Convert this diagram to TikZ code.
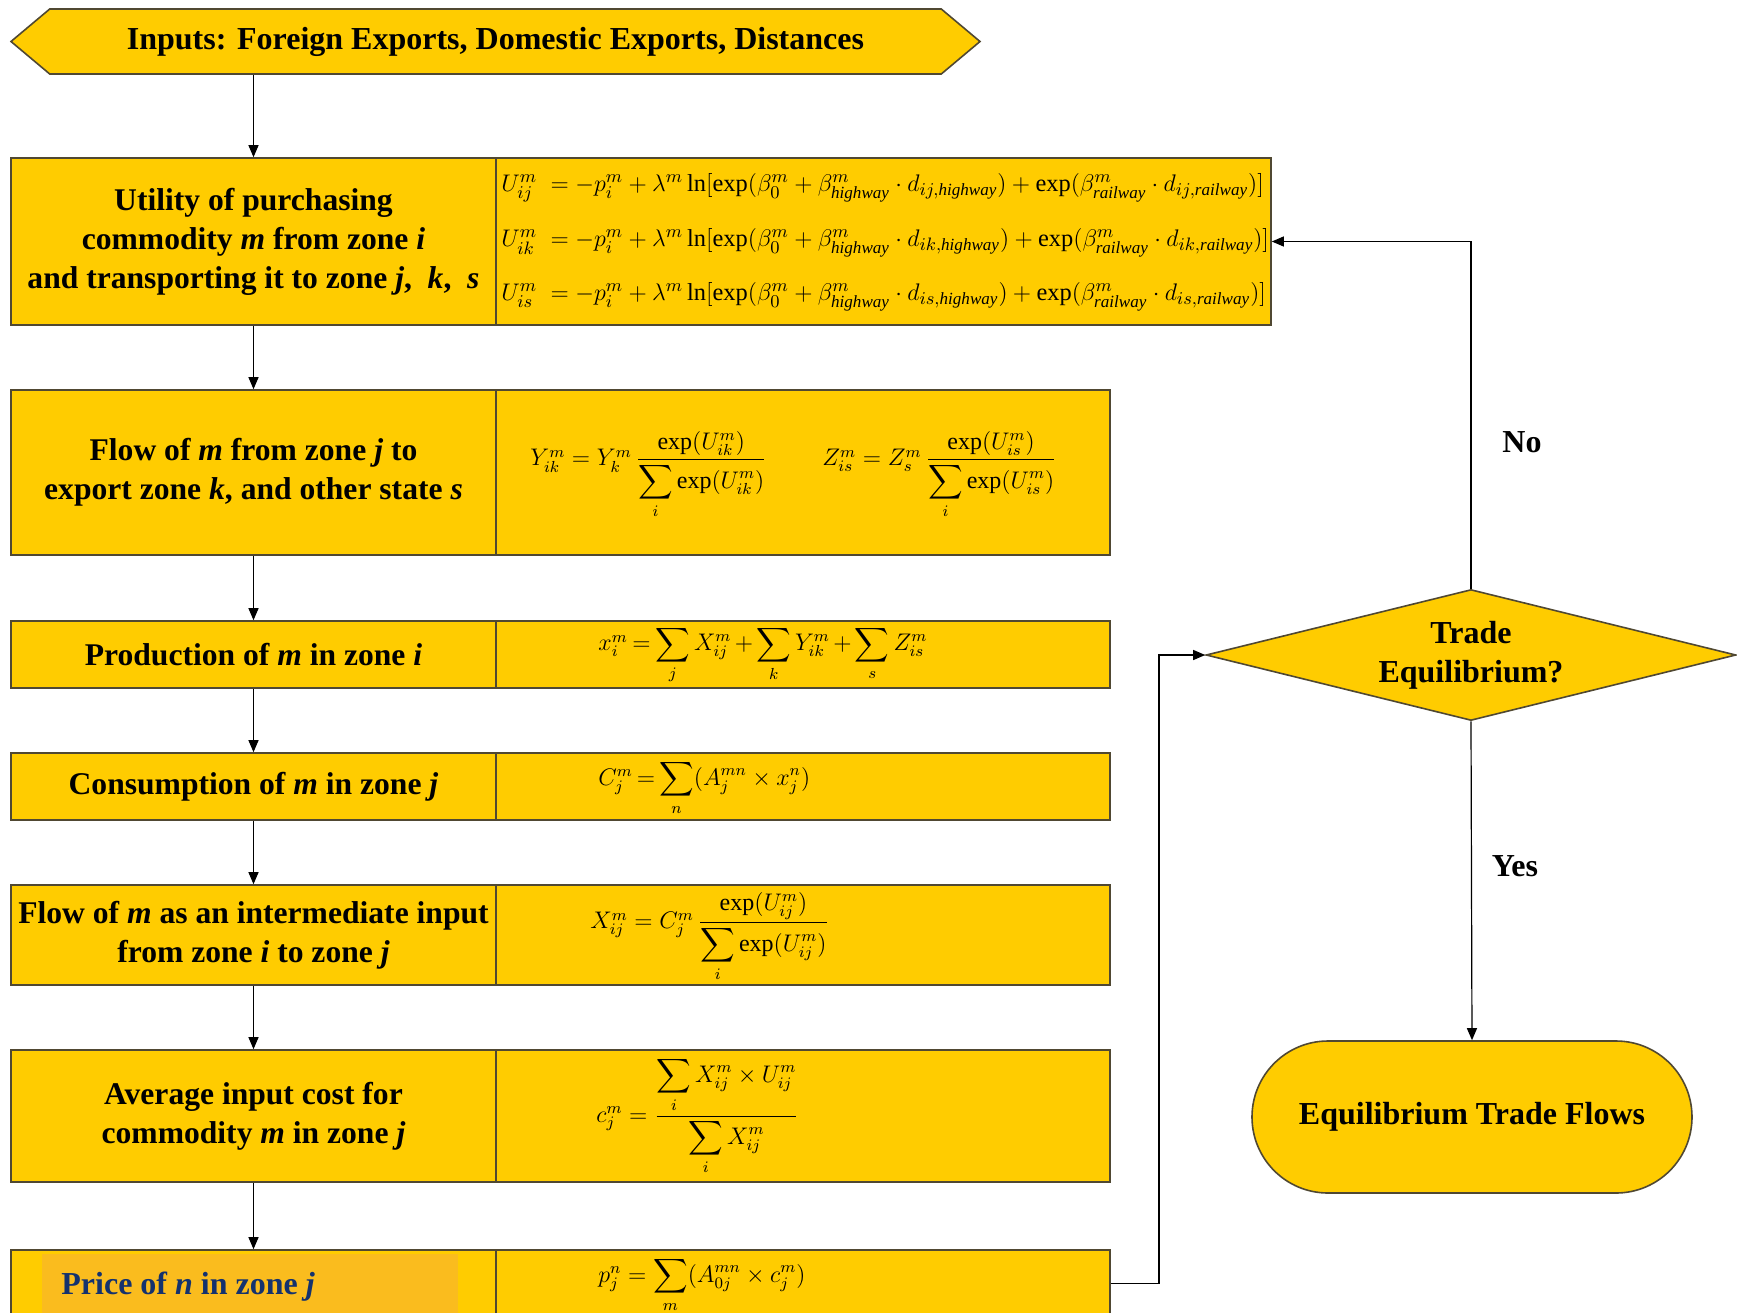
\documentclass[tikz,border=0pt]{standalone}
\usepackage{amsmath}
\usepackage{fontspec}
\setmainfont{Liberation Serif}
\usetikzlibrary{shapes.geometric,shapes.misc,shapes.symbols,arrows.meta}
\definecolor{gold}{RGB}{255,204,0}
\definecolor{edge}{RGB}{80,72,50}
\definecolor{pricebox}{RGB}{250,188,30}
\definecolor{navy}{RGB}{20,50,110}
\newcommand{\hw}{\mathit{highway}}
\newcommand{\rw}{\mathit{railway}}
\begin{document}
\begin{tikzpicture}[x=0.5pt,y=-0.5pt,
  box/.style={draw=edge, fill=gold, line width=0.8pt, inner sep=0pt,
    font=\fontsize{15.8}{19.5}\selectfont\bfseries, align=center},
  leftcell/.style={box, minimum width=242.5pt},
  arr/.style={-{Triangle[length=6pt,width=5pt]}, line width=0.6pt},
  lbl/.style={font=\fontsize{16}{18}\selectfont\bfseries},
  fml/.style={font=\fontsize{12}{14}\selectfont, inner sep=0pt},
  fmlbig/.style={fml, anchor=west, font=\fontsize{12.2}{14}\selectfont}]
\useasboundingbox (0,0) rectangle (1737,1313);
\clip (0,0) rectangle (1737,1313);
% top input shape
\node[box, signal, signal to=west and east, signal pointer angle=80,
  minimum width=484.5pt, minimum height=32.5pt, font=\fontsize{16}{18}\selectfont\bfseries] (H) at (495.5,41.5)
  {Inputs: Foreign Exports, Domestic Exports, Distances};
% rows
\node[leftcell, minimum height=83.5pt] (L1) at (253.5,241.5)
  {Utility of purchasing\\ commodity \textit{m} from zone \textit{i}\\ and transporting it to zone \textit{j}, \ \textit{k}, \ \textit{s}};
\node[box, minimum width=387.5pt, minimum height=83.5pt] (R1) at (883.5,241.5) {};
\node[leftcell, minimum height=82.5pt] (L2) at (253.5,472.5)
  {Flow of \textit{m} from zone \textit{j} to\\ export zone \textit{k}, and other state \textit{s}};
\node[box, minimum width=307pt, minimum height=82.5pt] (R2) at (803,472.5) {};
\node[leftcell, minimum height=33.5pt] (L3) at (253.5,654.5) {Production of \textit{m} in zone \textit{i}};
\node[box, minimum width=307pt, minimum height=33.5pt] (R3) at (803,654.5) {};
\node[leftcell, minimum height=33.5pt] (L4) at (253.5,786.5) {Consumption of \textit{m} in zone \textit{j}};
\node[box, minimum width=307pt, minimum height=33.5pt] (R4) at (803,786.5) {};
\node[leftcell, minimum height=50pt] (L5) at (253.5,935)
  {Flow of \textit{m} as an intermediate input\\ from zone \textit{i} to zone \textit{j}};
\node[box, minimum width=307pt, minimum height=50pt] (R5) at (803,935) {};
\node[leftcell, minimum height=66pt] (L6) at (253.5,1116)
  {Average input cost for\\ commodity \textit{m} in zone \textit{j}};
\node[box, minimum width=307pt, minimum height=66pt] (R6) at (803,1116) {};
\node[leftcell, minimum height=33.5pt] (L7) at (253.5,1283.5) {};
\node[box, minimum width=307pt, minimum height=33.5pt] (R7) at (803,1283.5) {};
\node[fill=pricebox, inner sep=0pt, minimum width=208pt, minimum height=38pt, anchor=north west] (P7) at (42,1254) {};
\node[anchor=west, text=navy, inner sep=0pt, font=\fontsize{16}{18}\selectfont\bfseries] (P7t) at (61,1287)
  {Price of \textit{n} in zone \textit{j}};
% formulas
\node[fmlbig] (f1a) at (501,188) {$U_{ij}^{m}\;=-p_i^m+\lambda^m\ln[\exp(\beta_0^m+\beta_{\hw}^m\cdot d_{ij,\hw})+\exp(\beta_{\rw}^m\cdot d_{ij,\rw})]$};
\node[fmlbig] (f1b) at (501,243) {$U_{ik}^{m}\;=-p_i^m+\lambda^m\ln[\exp(\beta_0^m+\beta_{\hw}^m\cdot d_{ik,\hw})+\exp(\beta_{\rw}^m\cdot d_{ik,\rw})]$};
\node[fmlbig] (f1c) at (501,297) {$U_{is}^{m}\;=-p_i^m+\lambda^m\ln[\exp(\beta_0^m+\beta_{\hw}^m\cdot d_{is,\hw})+\exp(\beta_{\rw}^m\cdot d_{is,\rw})]$};
\node[fml, anchor=west] (f2a) at (530,475) {$Y_{ik}^m=Y_k^m\,\dfrac{\exp(U_{ik}^m)}{\displaystyle\sum_i\exp(U_{ik}^m)}$};
\node[fml, anchor=west] (f2b) at (822,475) {$Z_{is}^m=Z_s^m\,\dfrac{\exp(U_{is}^m)}{\displaystyle\sum_i\exp(U_{is}^m)}$};
\node[fml, anchor=west] (f3) at (598,655) {$\medmuskip=2.5mu\thickmuskip=3.5mu x_i^m=\displaystyle\sum_j X_{ij}^m+\sum_k Y_{ik}^m+\sum_s Z_{is}^m$};
\node[fml, anchor=west] (f4) at (598,788) {$\thickmuskip=3mu C_j^m=\displaystyle\sum_n(A_j^{mn}\times x_j^n)$};
\node[fml, anchor=west] (f5) at (590,937) {$X_{ij}^m=C_j^m\,\dfrac{\exp(U_{ij}^m)}{\displaystyle\sum_i\exp(U_{ij}^m)}$};
\node[fml, anchor=west] (f6) at (596,1116) {$c_j^m=\dfrac{\displaystyle\sum_i X_{ij}^m\times U_{ij}^m}{\displaystyle\sum_i X_{ij}^m}$};
\node[fml, anchor=west] (f7) at (598,1285) {$p_j^n=\displaystyle\sum_m(A_{0j}^{mn}\times c_j^m)$};
% decision and terminal
\node[box, diamond, aspect=4, minimum width=265pt, minimum height=65.5pt, font=\fontsize{16}{19.5}\selectfont\bfseries] (D) at (1471,655)
  {Trade\\ Equilibrium?};
\node[box, rounded rectangle, minimum width=220pt, minimum height=76pt, font=\fontsize{16}{18}\selectfont\bfseries] (E) at (1472,1117)
  {Equilibrium Trade Flows};
\node[lbl] (no) at (1522,442) {No};
\node[lbl] (yes) at (1515,866) {Yes};
% connectors
\draw[arr] (H.south -| L1.north) -- (L1.north);
\draw[arr] (L1) -- (L2);
\draw[arr] (L2) -- (L3);
\draw[arr] (L3) -- (L4);
\draw[arr] (L4) -- (L5);
\draw[arr] (L5) -- (L6);
\draw[arr] (L6) -- (L7);
\draw[arr] (D.north) |- (R1.east);
\coordinate (bend) at (1159,655);
\draw[arr] (R7.east) -- (R7.east -| bend) -- (bend |- D.west) -- (D.west);
\draw[arr] (D.south) -- (E.north);
\end{tikzpicture}
\end{document}
